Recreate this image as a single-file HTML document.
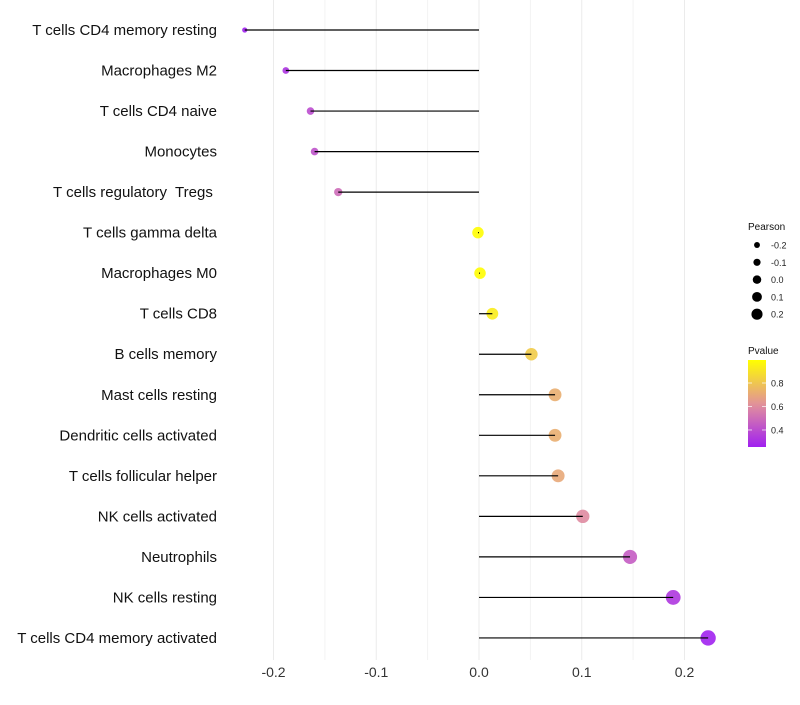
<!DOCTYPE html>
<html><head><meta charset="utf-8"><style>
body{margin:0;background:#fff;}
svg text{font-family:"Liberation Sans",sans-serif;white-space:pre;}
</style></head><body>
<svg id="chart" width="800" height="700"></svg>
<script>
const categories=["T cells CD4 memory resting","Macrophages M2","T cells CD4 naive","Monocytes","T cells regulatory  Tregs ","T cells gamma delta","Macrophages M0","T cells CD8","B cells memory","Mast cells resting","Dendritic cells activated","T cells follicular helper","NK cells activated","Neutrophils","NK cells resting","T cells CD4 memory activated"];
const pearson=[-0.228,-0.188,-0.164,-0.160,-0.137,-0.001,0.001,0.013,0.051,0.074,0.074,0.077,0.101,0.147,0.189,0.223];
const pvalues=[0.26,0.32,0.40,0.42,0.50,0.99,0.99,0.93,0.82,0.72,0.72,0.70,0.60,0.45,0.33,0.26];
const xTicks=[-0.2,-0.1,0.0,0.1,0.2];
const xTickLabels=["-0.2","-0.1","0.0","0.1","0.2"];
const minorTicks=[-0.15,-0.05,0.05,0.15];
const sizeLegend=[-0.2,-0.1,0.0,0.1,0.2];
const colorLegend=[0.8,0.6,0.4];

const NS="http://www.w3.org/2000/svg";
const svg=document.getElementById('chart');
const x=v=>479+v*1027.5;
const y=i=>30+i*40.53;
const r=v=>Math.sqrt(Math.max(2.3,33+115*v));
function mix(a,b,t){return a.map((c,i)=>Math.round(c+(b[i]-c)*t));}
function col(p){
  const lo=[160,32,240],mid=[224,140,160],hi=[255,255,0];
  const t=(p-0.255)/(0.996-0.255);
  const c=t<0.47?mix(lo,mid,t/0.47):mix(mid,hi,(t-0.47)/0.53);
  return `rgb(${c.join(',')})`;
}
function mk(tag,attrs){const e=document.createElementNS(NS,tag);for(const k in attrs)e.setAttribute(k,attrs[k]);svg.appendChild(e);return e;}

minorTicks.forEach(v=>{
  const g=mk('line',{x1:x(v),x2:x(v),y1:0,y2:660,stroke:'#f3f3f3','stroke-width':1});
  
  
});
xTicks.forEach((v,i)=>{
  const g=mk('line',{x1:x(v),x2:x(v),y1:0,y2:660,stroke:'#ebebeb','stroke-width':1});
  
  
  const t=mk('text',{x:x(v),y:677,'text-anchor':'middle','font-size':14,fill:'#333'});
  t.textContent=xTickLabels[i];
  
  
});
categories.forEach((c,i)=>{
  const t=mk('text',{x:217,y:y(i)+5,'text-anchor':'end','font-size':15,fill:'#111','xml:space':'preserve'});
  t.textContent=c;
  
  
  const p=mk('circle',{cx:x(pearson[i]),cy:y(i),r:r(pearson[i]),fill:col(pvalues[i]),'fill-opacity':0.9});
  
  
  const l=mk('line',{x1:x(0),x2:x(pearson[i]),y1:y(i),y2:y(i),stroke:'#000','stroke-width':1.2});
  
  
});
const st=mk('text',{x:748,y:230,'font-size':10,fill:'#111'});st.textContent='Pearson';


sizeLegend.forEach((v,i)=>{
  const cy=245+i*17.3;
  const c=mk('circle',{cx:757,cy:cy,r:4.25+v*6.5,fill:'#000'});
  
  
  const t=mk('text',{x:771,y:cy+3.5,'font-size':9,fill:'#222'});t.textContent=v.toFixed(1);
  
  
});
const ct=mk('text',{x:748,y:354,'font-size':10,fill:'#111'});ct.textContent='Pvalue';


const defs=mk('defs',{});
const lg=document.createElementNS(NS,'linearGradient');lg.setAttribute('id','pg');lg.setAttribute('x1','0');lg.setAttribute('y1','1');lg.setAttribute('x2','0');lg.setAttribute('y2','0');
for(let k=0;k<=10;k++){const s=document.createElementNS(NS,'stop');s.setAttribute('offset',k/10);s.setAttribute('stop-color',col(0.255+k/10*(0.996-0.255)));lg.appendChild(s);}
defs.appendChild(lg);
const bar=mk('rect',{x:748,y:360,width:18,height:87,fill:'url(#pg)'});


colorLegend.forEach(v=>{
  const cy=447-(v-0.255)/(0.996-0.255)*87;
  mk('line',{x1:748,x2:752,y1:cy,y2:cy,stroke:'#fff','stroke-opacity':0.7});
  mk('line',{x1:762,x2:766,y1:cy,y2:cy,stroke:'#fff','stroke-opacity':0.7});
  const t=mk('text',{x:771,y:cy+3.5,'font-size':9,fill:'#222'});t.textContent=v.toFixed(1);
  
  
});
</script>
</body></html>
